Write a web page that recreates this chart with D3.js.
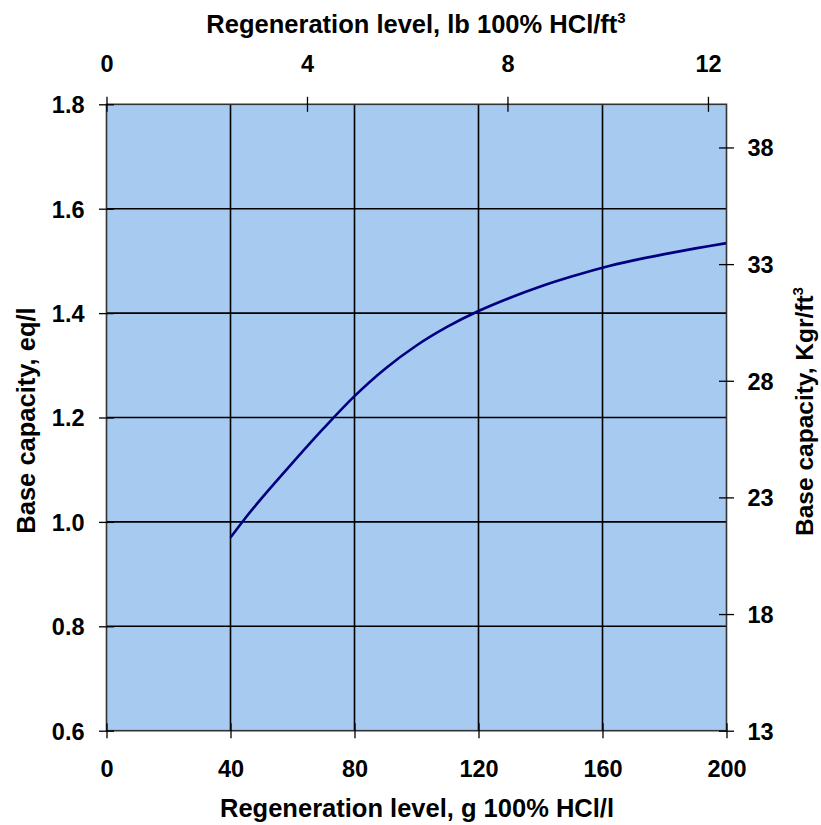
<!DOCTYPE html>
<html>
<head>
<meta charset="utf-8">
<script src="https://cdn.jsdelivr.net/npm/d3@7"></script>
<style>
  html, body { margin: 0; padding: 0; background: #fff; }
  svg text { font-family: "Liberation Sans", Arial, sans-serif; font-weight: bold; fill: #000; }
</style>
</head>
<body>
<svg id="chart" width="821" height="825"></svg>
<script>
// Regeneration level (g 100% HCl per litre of resin)
const regenLevels = [40, 45, 50, 60, 70, 80, 90, 100, 110, 120, 130, 140, 150, 160, 170, 180, 190, 200];
// Base capacity (eq/l)
const baseCapacity = [0.970, 1.009, 1.045, 1.113, 1.179, 1.241, 1.294, 1.338, 1.374, 1.404, 1.429, 1.451, 1.470, 1.487, 1.501, 1.513, 1.524, 1.534];

// Axis ticks
const bottomTicks = [0, 40, 80, 120, 160, 200];
const leftTicks = [0.6, 0.8, 1.0, 1.2, 1.4, 1.6, 1.8];
const topTicks = [0, 4, 8, 12];
const rightTicks = [13, 18, 23, 28, 33, 38];

// Secondary axis extents (lb/ft3 and Kgr/ft3)
const topDomain = [0, 12.37];
const rightDomain = [13, 39.85];

const svg = d3.select("#chart");
const margin = { left: 106.5, right: 821 - 726.5, top: 104.3, bottom: 825 - 730.7 };
const W = 821 - margin.left - margin.right;
const H = 825 - margin.top - margin.bottom;

const x = d3.scaleLinear().domain([0, 200]).range([0, W]);
const y = d3.scaleLinear().domain([0.6, 1.8]).range([H, 0]);
const xTop = d3.scaleLinear().domain(topDomain).range([0, W]);
const yRight = d3.scaleLinear().domain(rightDomain).range([H, 0]);

const g = svg.append("g").attr("transform", `translate(${margin.left},${margin.top})`);

// Plot area
g.append("rect").attr("x", 0).attr("y", 0).attr("width", W).attr("height", H)
  .attr("fill", "#A6CAF0");

// Grid
g.append("g").selectAll("line").data(bottomTicks.filter(d => d > 0 && d < 200)).join("line")
  .attr("x1", d => x(d)).attr("x2", d => x(d)).attr("y1", 0).attr("y2", H)
  .attr("stroke", "#000").attr("stroke-width", 1.6);
g.append("g").selectAll("line").data(leftTicks.filter(d => d > 0.6 && d < 1.8)).join("line")
  .attr("x1", 0).attr("x2", W).attr("y1", d => y(d)).attr("y2", d => y(d))
  .attr("stroke", "#000").attr("stroke-width", 1.6);

// Capacity curve
const line = d3.line().x((d, i) => x(regenLevels[i])).y(d => y(d)).curve(d3.curveCatmullRom.alpha(0.5));
g.append("path").datum(baseCapacity).attr("d", line)
  .attr("fill", "none").attr("stroke", "#000080").attr("stroke-width", 2.6);

// Plot border
g.append("rect").attr("x", 0).attr("y", 0).attr("width", W).attr("height", H)
  .attr("fill", "none").attr("stroke", "#333").attr("stroke-width", 1.6);

const fs = 23.5;
function styleAxis(sel, orient) {
  sel.select(".domain").remove();
  sel.attr("font-family", null).attr("font-size", null);
  sel.selectAll(".tick line").attr("stroke", "#000").attr("stroke-width", 1.3);
  if (orient === "h") sel.selectAll(".tick line").attr("y1", -7.5).attr("y2", 7.5);
  else sel.selectAll(".tick line").attr("x1", -7.5).attr("x2", 7.5);
  sel.selectAll(".tick text").attr("font-size", fs);
}

g.append("g").attr("transform", `translate(0,${H})`)
  .call(d3.axisBottom(x).tickValues(bottomTicks).tickFormat(d3.format("d")).tickSize(0).tickPadding(0))
  .call(s => styleAxis(s, "h"))
  .call(s => s.selectAll(".tick text").attr("dy", null).attr("y", 46));

g.append("g")
  .call(d3.axisLeft(y).tickValues(leftTicks).tickFormat(d3.format(".1f")).tickSize(0).tickPadding(0))
  .call(s => styleAxis(s, "v"))
  .call(s => s.selectAll(".tick text").attr("x", -22).attr("dy", "0.36em"));

g.append("g")
  .call(d3.axisTop(xTop).tickValues(topTicks).tickFormat(d3.format("d")).tickSize(0).tickPadding(0))
  .call(s => styleAxis(s, "h"))
  .call(s => s.selectAll(".tick text").attr("y", -32).attr("dy", null));

g.append("g").attr("transform", `translate(${W},0)`)
  .call(d3.axisRight(yRight).tickValues(rightTicks).tickFormat(d3.format("d")).tickSize(0).tickPadding(0))
  .call(s => styleAxis(s, "v"))
  .call(s => s.selectAll(".tick text").attr("x", 21).attr("dy", "0.36em"));

// Axis titles
const tfs = 25.5;
svg.append("text").attr("x", 417).attr("y", 817).attr("text-anchor", "middle")
  .attr("font-size", tfs).text("Regeneration level, g 100% HCl/l");

const topTitle = svg.append("text").attr("x", 416).attr("y", 33).attr("text-anchor", "middle")
  .attr("font-size", tfs);
topTitle.append("tspan").text("Regeneration level, lb 100% HCl/ft");
topTitle.append("tspan").attr("font-size", 15).attr("dy", -10).text("3");

svg.append("text").attr("transform", `translate(35,${margin.top + H / 2 + 3}) rotate(-90)`)
  .attr("text-anchor", "middle").attr("font-size", tfs).text("Base capacity, eq/l");

const rightTitle = svg.append("text").attr("transform", `translate(813,${margin.top + H / 2 - 6}) rotate(-90)`)
  .attr("text-anchor", "middle").attr("font-size", 24.5);
rightTitle.append("tspan").text("Base capacity, Kgr/ft");
rightTitle.append("tspan").attr("font-size", 15).attr("dy", -10).text("3");
</script>
</body>
</html>
